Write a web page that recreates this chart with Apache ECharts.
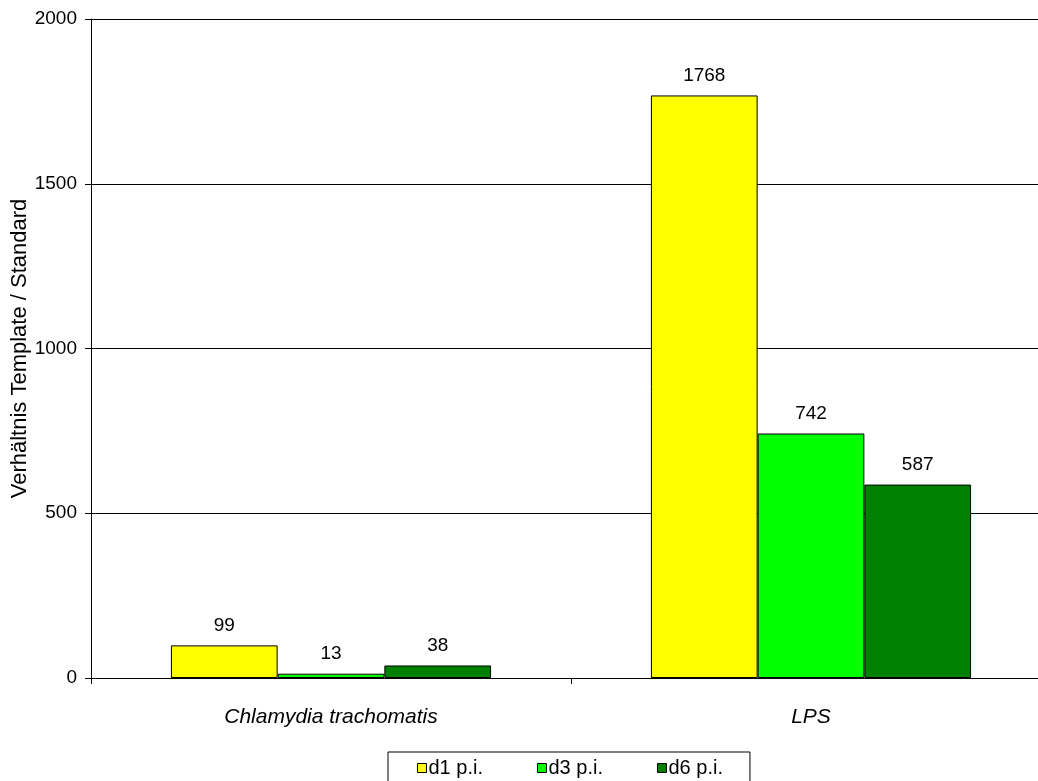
<!DOCTYPE html>
<html>
<head>
<meta charset="utf-8">
<script src="https://cdn.jsdelivr.net/npm/echarts@6/dist/echarts.min.js"></script>
<style>
  html, body { margin: 0; padding: 0; background: #fff; }
  #chart { width: 1038px; height: 781px; }
</style>
</head>
<body>
<div id="chart"></div>
<script>
// Daten
var categories = ['Chlamydia trachomatis', 'LPS'];
var seriesNames = ['d1 p.i.', 'd3 p.i.', 'd6 p.i.'];
var d1 = [99, 1768];
var d3 = [13, 742];
var d6 = [38, 587];
var colors = ['#FFFF00', '#00FF00', '#008000'];

var chart = echarts.init(document.getElementById('chart'));

function bar(name, data, color) {
    return {
        name: name,
        type: 'bar',
        data: data,
        barGap: '0%',
        barCategoryGap: '33.3%',
        itemStyle: { color: color, borderColor: '#000', borderWidth: 1 },
        label: {
            show: true,
            position: 'top',
            distance: 10,
            color: '#000',
            fontSize: 19,
            fontFamily: 'Liberation Sans'
        }
    };
}

var option = {
    animation: false,
    textStyle: { fontFamily: 'Liberation Sans' },
    grid: { left: 91, top: 19, right: -13, bottom: 103, outerBoundsMode: 'none', containLabel: false },
    legend: {
        top: 752,
        left: 388,
        itemWidth: 9,
        itemHeight: 9,
        itemGap: 54,
        padding: [6, 27, 30, 29],
        borderColor: '#000',
        borderWidth: 1,
        borderRadius: 0,
        backgroundColor: '#fff',
        icon: 'rect',
        itemStyle: { borderColor: '#000', borderWidth: 1 },
        textStyle: { fontSize: 20, color: '#000', fontFamily: 'Liberation Sans', padding: [0, 0, 0, -3] },
        data: seriesNames
    },
    xAxis: {
        type: 'category',
        data: categories,
        axisLine: { lineStyle: { color: '#000', width: 1 } },
        axisTick: { show: true, length: 6, lineStyle: { color: '#000' } },
        axisLabel: { color: '#000', fontSize: 21, fontStyle: 'italic', margin: 29 }
    },
    yAxis: {
        type: 'value',
        min: 0,
        max: 2000,
        interval: 500,
        name: 'Verhältnis Template / Standard',
        nameLocation: 'middle',
        nameGap: 60,
        nameMoveOverlap: false,
        nameTextStyle: { color: '#000', fontSize: 22 },
        axisLine: { show: true, lineStyle: { color: '#000', width: 1 } },
        axisTick: { show: true, length: 6, lineStyle: { color: '#000' } },
        axisLabel: {
            color: '#000',
            fontSize: 19,
            margin: 14,
            formatter: function (v) { return String(v); }
        },
        splitLine: { show: true, lineStyle: { color: '#000', width: 1 } }
    },
    series: [
        bar(seriesNames[0], d1, colors[0]),
        bar(seriesNames[1], d3, colors[1]),
        bar(seriesNames[2], d6, colors[2])
    ]
};

chart.setOption(option);
window.onresize = function () {
    chart.resize();
};
</script>
</body>
</html>
